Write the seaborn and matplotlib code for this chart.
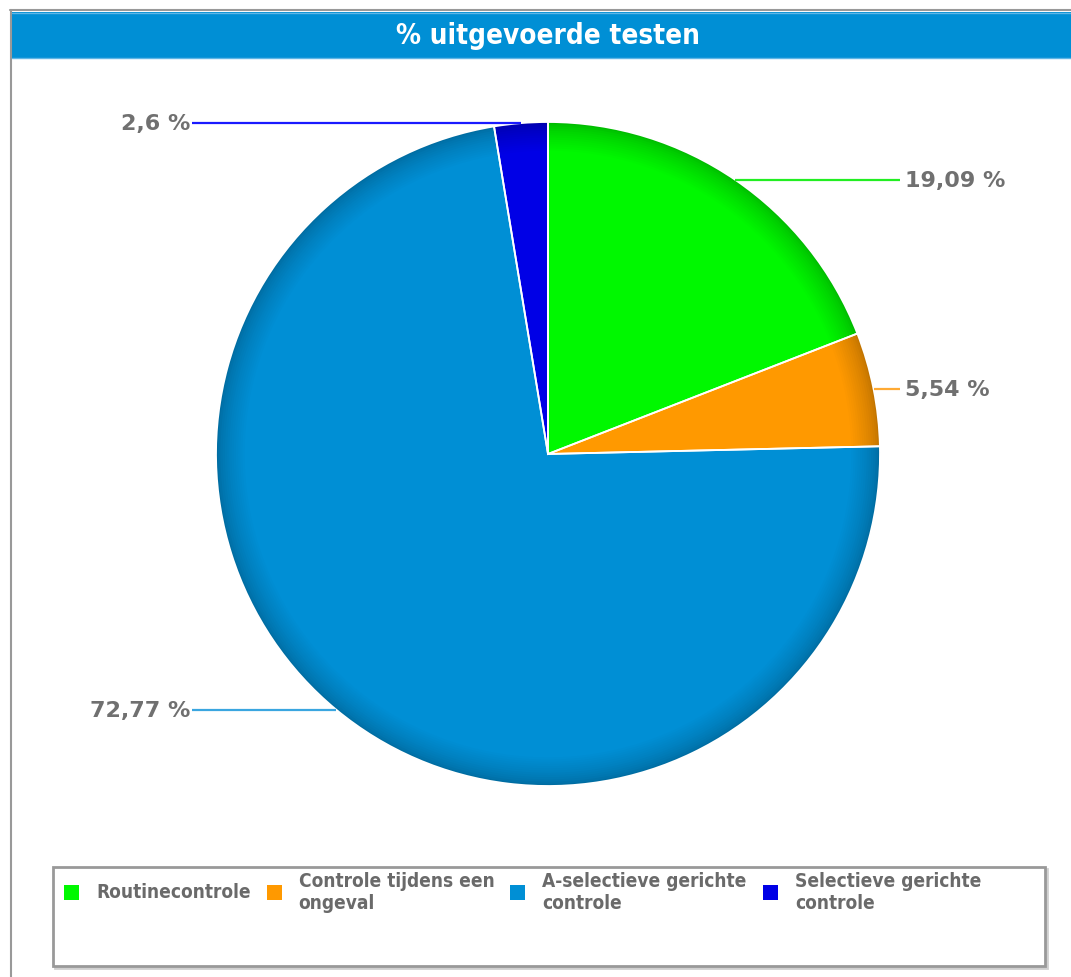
import numpy as np
import matplotlib
matplotlib.use("Agg")
import matplotlib.pyplot as plt
import matplotlib.colors as mcolors
from matplotlib.patches import Rectangle
import seaborn as sns

categories = ["Routinecontrole", "Controle tijdens een\nongeval",
              "A-selectieve gerichte\ncontrole", "Selectieve gerichte\ncontrole"]
percentages = [19.09, 5.54, 72.77, 2.6]
value_labels = ["19,09 %", "5,54 %", "72,77 %", "2,6 %"]
slice_colors = ["#00f800", "#ff9900", "#008fd5", "#0000e6"]
line_colors = ["#22ee22", "#ffaa33", "#3aa6e0", "#1a1aff"]
title = "% uitgevoerde testen"

sns.set_theme(style="white")
plt.rcParams["font.family"] = ["DejaVu Sans"]

W, H = 1071, 978
fig = plt.figure(figsize=(W / 100, H / 100), dpi=100)
ax = fig.add_axes([0, 0, 1, 1])

cx, cy, R = 548, H - 455, 332


def shade(c, f):
    return tuple(np.array(mcolors.to_rgb(c)) * f)


# darker rim, lighter inside
n = 14
for i in range(n):
    t = i / (n - 1)
    f = 0.76 + 0.24 * t ** 0.7
    ax.pie(percentages, colors=[shade(c, f) for c in slice_colors],
           startangle=90, counterclock=False, radius=R - i * 2.2,
           center=(cx, cy), wedgeprops=dict(linewidth=0))

wedges, _ = ax.pie(percentages, startangle=90, counterclock=False, radius=R,
                   center=(cx, cy),
                   wedgeprops=dict(facecolor="none", edgecolor="white", linewidth=1.3))

ax.set_aspect("auto")
ax.set_xlim(0, W)
ax.set_ylim(0, H)
ax.axis("off")

# value labels with leader lines
for w, lab, lc in zip(wedges, value_labels, line_colors):
    ang = np.deg2rad((w.theta1 + w.theta2) / 2)
    ex, ey = cx + R * np.cos(ang), cy + R * np.sin(ang)
    if ex > cx:
        ax.plot([ex, 900], [ey, ey], color=lc, lw=1.6, solid_capstyle="butt")
        ax.text(905, ey, lab, ha="left", va="center", fontsize=16,
                fontweight="bold", color="#707070")
    else:
        ax.plot([192, ex], [ey, ey], color=lc, lw=1.6, solid_capstyle="butt")
        ax.text(190, ey, lab, ha="right", va="center", fontsize=16,
                fontweight="bold", color="#707070")

# outer frame and title bar
ax.plot([10, W], [H - 11, H - 11], color="#999999", lw=1.5)
ax.plot([11, 11], [0, H - 11], color="#999999", lw=1.5)
ax.add_patch(Rectangle((12, H - 59), W - 12, 46, color="#008fd5", lw=0))
ax.plot([12, W], [H - 14, H - 14], color="#5fb6e6", lw=1)
ax.plot([12, W], [H - 58.5, H - 58.5], color="#5fb6e6", lw=1)
ax.text(548, H - 36, title, ha="center", va="center", fontsize=20,
        color="white", fontstretch="condensed", fontweight="bold")

# legend box
ax.add_patch(Rectangle((55, H - 969), 992, 99, fill=False, edgecolor="#d0d0d0", lw=2))
ax.add_patch(Rectangle((53, H - 967), 992, 99, facecolor="white", edgecolor="#999999", lw=2))

renderer = fig.canvas.get_renderer()
xm = 64
for cat, col in zip(categories, slice_colors):
    ax.add_patch(Rectangle((xm, H - 901), 15, 15, color=mcolors.to_rgb(col), lw=0))
    t = ax.text(xm + 32, H - 893, cat, ha="left", va="center", fontsize=13.7,
                fontweight="bold", fontstretch="condensed", color="#6a6a6a",
                linespacing=1.2)
    bb = t.get_window_extent(renderer)
    xm = bb.x1 + 16

fig.savefig("out.png", dpi=100)
